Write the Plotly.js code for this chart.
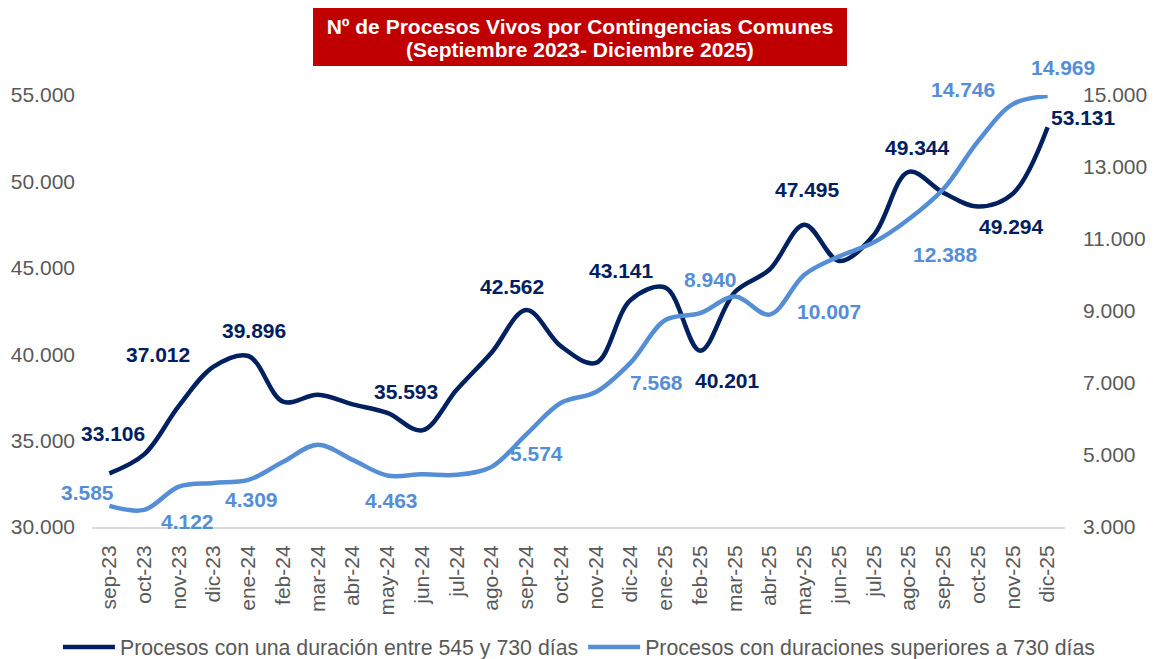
<!DOCTYPE html>
<html>
<head>
<meta charset="utf-8">
<script src="https://cdn.plot.ly/plotly-3.0.1.min.js"></script>
<style>
  html, body { margin: 0; padding: 0; background: #fff; }
  #chart { width: 1155px; height: 659px; }
</style>
</head>
<body>
<div id="chart"></div>
<script>
// ---- data ----
const months = ['sep-23','oct-23','nov-23','dic-23','ene-24','feb-24','mar-24','abr-24','may-24','jun-24','jul-24','ago-24',
                'sep-24','oct-24','nov-24','dic-24','ene-25','feb-25','mar-25','abr-25','may-25','jun-25','jul-25','ago-25',
                'sep-25','oct-25','nov-25','dic-25'];
const procesos545a730 = [33106, 34200, 37012, 39280, 39896, 37250, 37650, 37100, 36600, 35593, 37950, 40100,
                         42562, 40450, 39500, 43141, 43850, 40201, 43600, 44900, 47495, 45400, 46900, 50550,
                         49344, 48550, 49294, 53131];
const procesosMas730 = [3585, 3475, 4122, 4225, 4309, 4810, 5283, 4865, 4430, 4463, 4450, 4670,
                        5574, 6450, 6750, 7568, 8750, 8940, 9400, 8900, 10007, 10517, 10907, 11547,
                        12388, 13718, 14746, 14969];
const leftTicks = [30000, 35000, 40000, 45000, 50000, 55000];
const rightTicks = [3000, 5000, 7000, 9000, 11000, 13000, 15000];
const seriesNames = ['Procesos con una duración entre 545 y 730 días', 'Procesos con duraciones superiores a 730 días'];
const titleLine1 = 'Nº de Procesos Vivos por Contingencias Comunes';
const titleLine2 = '(Septiembre 2023- Diciembre 2025)';

// which points carry a value label (month index) and where the label sits (pixel offset)
const darkLabels = [
  {i: 0, dx: 4, dy: -40}, {i: 2, dx: -21, dy: -51}, {i: 4, dx: 6, dy: -26}, {i: 9, dx: -16, dy: -39},
  {i: 12, dx: -14, dy: -23}, {i: 15, dx: -9, dy: -29}, {i: 17, dx: 27, dy: 30}, {i: 20, dx: 3, dy: -35},
  {i: 24, dx: -26, dy: -45}, {i: 26, dx: -1, dy: 33}, {i: 27, dx: 36, dy: -10}
];
const lightLabels = [
  {i: 0, dx: -22, dy: -13}, {i: 2, dx: 9, dy: 35}, {i: 4, dx: 3, dy: 20}, {i: 9, dx: -31, dy: 26},
  {i: 12, dx: 10, dy: 19}, {i: 15, dx: 26, dy: 20}, {i: 17, dx: 10, dy: -34}, {i: 20, dx: 25, dy: 37},
  {i: 24, dx: 2, dy: 65}, {i: 26, dx: -50, dy: -15}, {i: 27, dx: 15, dy: -29}
];

const DARK = '#002060';
const LIGHT = '#558ED5';
const GREY = '#595959';
const FONT = 'Arial, "Liberation Sans", sans-serif';

function fmt(n) { return String(Math.round(n)).replace(/\B(?=(\d{3})+(?!\d))/g, '.'); }

const traces = [
  {
    x: months, y: procesos545a730, name: seriesNames[0], type: 'scatter', mode: 'lines',
    line: {color: DARK, width: 4.5, shape: 'spline', smoothing: 1}, yaxis: 'y'
  },
  {
    x: months, y: procesosMas730, name: seriesNames[1], type: 'scatter', mode: 'lines',
    line: {color: LIGHT, width: 4.5, shape: 'spline', smoothing: 1}, yaxis: 'y2'
  }
];

const annotations = [];
darkLabels.forEach(l => annotations.push({
  x: months[l.i], y: procesos545a730[l.i], xref: 'x', yref: 'y', text: '<b>' + fmt(procesos545a730[l.i]) + '</b>',
  showarrow: false, xshift: l.dx, yshift: -l.dy, font: {family: FONT, size: 21, color: DARK}
}));
lightLabels.forEach(l => annotations.push({
  x: months[l.i], y: procesosMas730[l.i], xref: 'x', yref: 'y2', text: '<b>' + fmt(procesosMas730[l.i]) + '</b>',
  showarrow: false, xshift: l.dx, yshift: -l.dy, font: {family: FONT, size: 21, color: LIGHT}
}));
// second line of the title
annotations.push({
  text: '<b>' + titleLine2 + '</b>', xref: 'paper', yref: 'paper',
  x: (580 - 92) / 973, y: (527 - 49) / 432, xanchor: 'center', yanchor: 'middle',
  showarrow: false, font: {family: FONT, size: 21, color: '#ffffff'}
});

const layout = {
  width: 1155, height: 659,
  margin: {l: 92, r: 90, t: 95, b: 132, autoexpand: false},
  paper_bgcolor: '#ffffff', plot_bgcolor: '#ffffff',
  separators: ',.',
  showlegend: true,
  title: {
    text: '<b>' + titleLine1 + '</b>',
    x: 580 / 1155, xref: 'container', xanchor: 'center',
    y: 1 - 27 / 659, yref: 'container', yanchor: 'middle',
    font: {family: FONT, size: 21, color: '#ffffff'}
  },
  shapes: [{
    type: 'rect', xref: 'paper', yref: 'paper',
    x0: (313 - 92) / 973, x1: (847 - 92) / 973,
    y0: (527 - 66) / 432, y1: (527 - 8) / 432,
    fillcolor: '#C00000', line: {width: 0}, layer: 'above'
  }],
  xaxis: {
    type: 'category', range: [-0.5, months.length - 0.5], autorange: false,
    tickangle: -90, showgrid: false, zeroline: false, automargin: false,
    showline: true, linecolor: '#D9D9D9', linewidth: 2, ticks: '',
    ticklabelstandoff: 8,
    tickfont: {family: FONT, size: 21, color: GREY}
  },
  yaxis: {
    range: [30000, 55000], tickvals: leftTicks, ticktext: leftTicks.map(fmt), automargin: false,
    showgrid: false, zeroline: false, showline: false, ticks: '',
    ticklabelstandoff: 16,
    tickfont: {family: FONT, size: 21, color: GREY}
  },
  yaxis2: {
    range: [3000, 15000], tickvals: rightTicks, ticktext: rightTicks.map(fmt), automargin: false,
    overlaying: 'y', side: 'right',
    showgrid: false, zeroline: false, showline: false, ticks: '',
    ticklabelstandoff: 17,
    tickfont: {family: FONT, size: 21, color: GREY}
  },
  legend: {
    orientation: 'h', x: -0.035, xanchor: 'left', y: -0.278, yanchor: 'middle',
    font: {family: FONT, size: 21.3, color: GREY}, bgcolor: 'rgba(0,0,0,0)',
    itemwidth: 52, tracegroupgap: 0
  },
  annotations: annotations
};

Plotly.newPlot('chart', traces, layout, {displayModeBar: false, staticPlot: true});
</script>
</body>
</html>
